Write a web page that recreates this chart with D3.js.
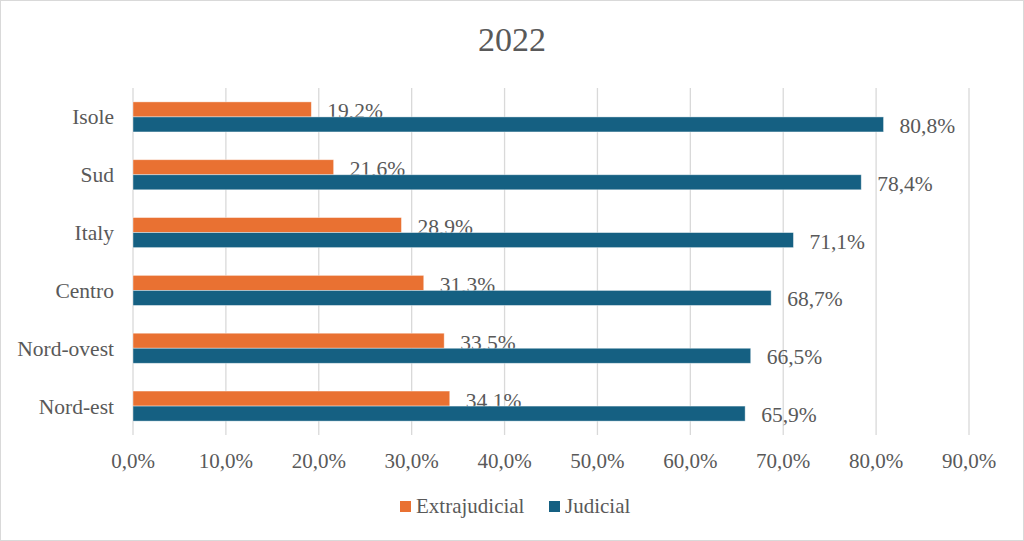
<!DOCTYPE html>
<html>
<head>
<meta charset="utf-8">
<script src="https://cdn.jsdelivr.net/npm/d3@7"></script>
<style>
  body { margin: 0; background: #fff; }
  svg text { font-family: "Liberation Serif", "Times New Roman", serif; fill: #595959; }
</style>
</head>
<body>
<div id="chart"></div>
<script>
// data
var categories = ['Isole', 'Sud', 'Italy', 'Centro', 'Nord-ovest', 'Nord-est'];
var extrajudicial = [19.2, 21.6, 28.9, 31.3, 33.5, 34.1];
var judicial = [80.8, 78.4, 71.1, 68.7, 66.5, 65.9];
var seriesNames = ['Extrajudicial', 'Judicial'];
var seriesColors = ['#E97132', '#156082'];
var ticks = [0, 10, 20, 30, 40, 50, 60, 70, 80, 90];

var width = 1024, height = 541;
var fmt = function(v) { return v.toFixed(1).replace('.', ',') + '%'; };

var svg = d3.select('#chart').append('svg')
  .attr('width', width).attr('height', height);

svg.append('rect')
  .attr('x', 0.5).attr('y', 0.5)
  .attr('width', width - 1).attr('height', height - 1)
  .attr('fill', '#fff').attr('stroke', '#d9d9d9');

svg.append('text')
  .attr('x', 512).attr('y', 51)
  .attr('text-anchor', 'middle')
  .style('font-size', '34px')
  .text('2022');

var x = d3.scaleLinear().domain([0, 90]).range([133, 969]);
var y = d3.scaleBand().domain(categories).range([88, 435]).paddingInner(0.48).paddingOuter(0.24);
var inner = d3.scaleBand().domain(seriesNames).range([0, y.bandwidth()]);

// gridlines
svg.append('g').selectAll('line')
  .data(ticks).enter().append('line')
  .attr('x1', function(d) { return x(d); })
  .attr('x2', function(d) { return x(d); })
  .attr('y1', 88).attr('y2', 435)
  .attr('stroke', '#d9d9d9').attr('stroke-width', 1.3);

// x tick labels
svg.append('g').selectAll('text')
  .data(ticks).enter().append('text')
  .attr('x', function(d) { return x(d); })
  .attr('y', 468)
  .attr('text-anchor', 'middle')
  .style('font-size', '21px')
  .text(function(d) { return d.toFixed(1).replace('.', ',') + '%'; });

// category labels
svg.append('g').selectAll('text')
  .data(categories).enter().append('text')
  .attr('x', 114)
  .attr('y', function(d) { return y(d) + y.bandwidth() / 2; })
  .attr('dy', '0.35em')
  .attr('text-anchor', 'end')
  .style('font-size', '21.5px')
  .text(function(d) { return d; });

var series = [extrajudicial, judicial];
series.forEach(function(vals, si) {
  var g = svg.append('g');
  g.selectAll('rect')
    .data(vals).enter().append('rect')
    .attr('x', x(0))
    .attr('y', function(d, i) { return y(categories[i]) + inner(seriesNames[si]); })
    .attr('width', function(d) { return x(d) - x(0); })
    .attr('height', inner.bandwidth())
    .attr('fill', seriesColors[si])
    .attr('stroke', '#fff').attr('stroke-opacity', 0.5).attr('stroke-width', 0.8);
  g.selectAll('text')
    .data(vals).enter().append('text')
    .attr('x', function(d) { return x(d) + 16; })
    .attr('y', function(d, i) { return y(categories[i]) + inner(seriesNames[si]) + inner.bandwidth() / 2 + (si === 0 ? 1.5 : 1); })
    .attr('dy', '0.35em')
    .style('font-size', '21.5px')
    .text(function(d) { return fmt(d); });
});

// legend
var legendX = [400, 549];
var lg = svg.append('g');
seriesNames.forEach(function(name, i) {
  lg.append('rect')
    .attr('x', legendX[i]).attr('y', 501)
    .attr('width', 11).attr('height', 11)
    .attr('fill', seriesColors[i]);
  lg.append('text')
    .attr('x', legendX[i] + 16).attr('y', 506)
    .attr('dy', '0.35em')
    .style('font-size', '21px')
    .text(name);
});
</script>
</body>
</html>
